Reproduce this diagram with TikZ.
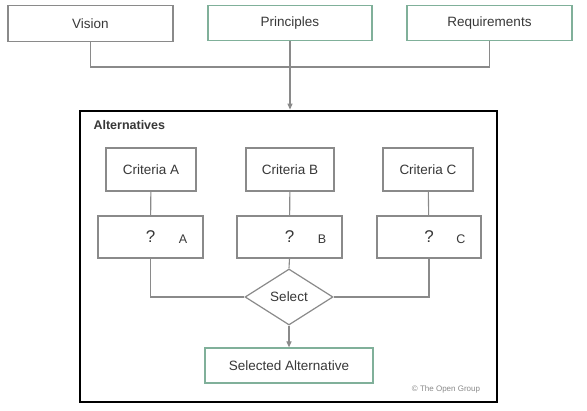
\documentclass[tikz,border=0pt]{standalone}
\usepackage{fontspec}
\setmainfont{Liberation Sans}
\usetikzlibrary{shapes.geometric,arrows.meta}
\definecolor{edgegray}{HTML}{8A8A8A}
\definecolor{edgegreen}{HTML}{80B09A}
\definecolor{inkgray}{HTML}{383838}
\tikzset{
	plainbox/.style={draw=edgegray, line width=1.2pt, fill=white, text=inkgray, inner sep=0pt, font=\fontsize{13.5}{15}\selectfont},
	greenbox/.style={plainbox, draw=edgegreen},
	wire/.style={draw=edgegray, line width=1.1pt},
	feed/.style={wire, -{Triangle[length=6pt,width=5pt]}, fill=edgegray}
}

\begin{document}
\begin{tikzpicture}[x=1pt, y=-1pt]
			%%%%% START %%%%%
			
			\useasboundingbox[fill=white] (0, 0) rectangle (587, 411);
			
			\node[plainbox, minimum width=165, minimum height=36] (vision) at (90.5, 23.5) {Vision};
			\node[greenbox, minimum width=164, minimum height=35] (principles) at (290, 23) {Principles};
			\node[greenbox, minimum width=165, minimum height=35] (requirements) at (489.5, 23) {Requirements};
			
			\node[draw=black, line width=2.8pt, minimum width=417, minimum height=291] (alternatives) at (288.5, 256.5) {};
			\node[anchor=west, text=inkgray, font=\bfseries\fontsize{12.5}{14}\selectfont] (altlabel) at (90, 125) {Alternatives};
			
			\node[plainbox, minimum width=90, minimum height=43] (critA) at (151, 169.5) {Criteria A};
			\node[plainbox, minimum width=88, minimum height=43] (critB) at (290, 169.5) {Criteria B};
			\node[plainbox, minimum width=90, minimum height=43] (critC) at (428, 169.5) {Criteria C};
			
			\node[plainbox, minimum width=105, minimum height=42, font=\fontsize{17}{19}\selectfont] (optA) at (150.5, 237) {?};
			\node[plainbox, minimum width=105, minimum height=42, font=\fontsize{17}{19}\selectfont] (optB) at (289.5, 237) {?};
			\node[plainbox, minimum width=104, minimum height=42, font=\fontsize{17}{19}\selectfont] (optC) at (429, 237) {?};
			\node[text=inkgray, font=\fontsize{12.5}{14}\selectfont] (tagA) at (183, 239) {A};
			\node[text=inkgray, font=\fontsize{12.5}{14}\selectfont] (tagB) at (322, 239) {B};
			\node[text=inkgray, font=\fontsize{12.5}{14}\selectfont] (tagC) at (461, 239) {C};
			
			\node[plainbox, diamond, aspect=1.57, minimum width=88, minimum height=56] (select) at (289, 297) {Select};
			\node[greenbox, minimum width=168, minimum height=35] (chosen) at (289, 365.5) {Selected Alternative};
			
			\node[text=edgegray, font=\fontsize{8}{9}\selectfont] (copy) at (446, 389) {\textcopyright{} The Open Group};
			
			\coordinate (bus) at (290, 67);
			\draw[wire] (vision.south) |- (bus) -| (requirements.south);
			\draw[feed] (principles.south) -- (principles.south |- alternatives.north);
			
			\draw[wire] (critA) -- (optA);
			\draw[wire] (critB) -- (optB);
			\draw[wire] (critC) -- (optC);
			
			\draw[wire] (optA.south) |- (select.west);
			\draw[wire] (optC.south) |- (select.east);
			\draw[wire] (optB.south) -- (select.north);
			\draw[feed] (select.south) -- (chosen.north);
			
			%%%%% END %%%%%
		\end{tikzpicture}
\end{document}
